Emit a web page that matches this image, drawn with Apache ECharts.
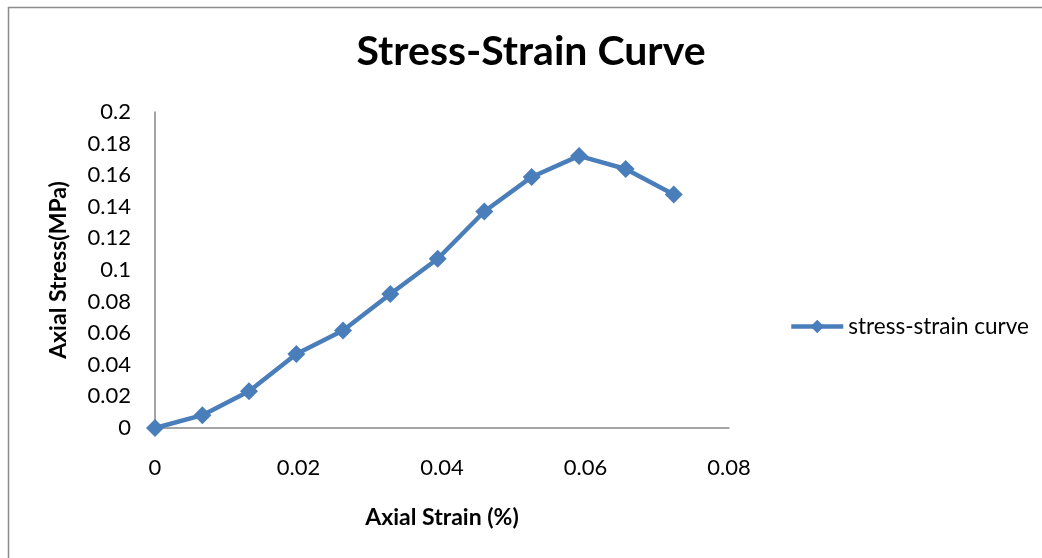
<!DOCTYPE html>
<html>
<head>
<meta charset="utf-8">
<style>
  html, body { margin: 0; padding: 0; background: #fff; }
  #chart { width: 1042px; height: 558px; }
</style>
<script src="https://cdn.jsdelivr.net/npm/echarts@6/dist/echarts.min.js"></script>
</head>
<body>
<div id="chart"></div>
<script>
// Axial strain (%) and the matching axial stress (MPa)
const strain = [0, 0.0066, 0.0131, 0.0197, 0.0262, 0.0328, 0.0394, 0.0459, 0.0525, 0.0591, 0.0656, 0.0723];
const stress = [0, 0.0081, 0.0233, 0.0469, 0.0617, 0.0848, 0.1071, 0.1370, 0.1589, 0.1722, 0.1639, 0.1478];
const seriesName = 'stress-strain curve';
const titleText = 'Stress-Strain Curve';
const xTitle = 'Axial Strain (%)';
const yTitle = 'Axial Stress(MPa)';

const FONT = 'Lato, "Open Sans", sans-serif';
const BLUE = '#4a7ebb';
const AXIS = '#868686';

const chart = echarts.init(document.getElementById('chart'), null, { renderer: 'canvas' });

chart.setOption({
  backgroundColor: '#fff',
  animation: false,
  title: {
    text: titleText,
    left: 531,
    top: 31,
    padding: 0,
    textAlign: 'center',
    textStyle: { fontFamily: FONT, fontWeight: 'bold', fontSize: 41, color: '#000' }
  },
  legend: {
    data: [seriesName],
    left: 789,
    top: 315,
    padding: 0,
    itemWidth: 52,
    itemHeight: 17,
    itemGap: 4,
    lineStyle: { width: 4.5 },
    textStyle: { fontFamily: FONT, fontSize: 22.5, color: '#000' }
  },
  grid: { left: 155, right: 313, top: 112, bottom: 130, containLabel: false },
  xAxis: {
    type: 'value',
    min: 0, max: 0.08, interval: 0.02,
    name: xTitle,
    nameLocation: 'middle',
    nameGap: 78,
    nameTextStyle: { fontFamily: FONT, fontWeight: 'bold', fontSize: 23, color: '#000' },
    axisLine: { show: true, lineStyle: { color: AXIS, width: 1.5 } },
    axisTick: { show: false },
    splitLine: { show: false },
    axisLabel: {
      margin: 29, fontFamily: FONT, fontSize: 22, color: '#000',
      formatter: v => String(+v.toFixed(2))
    }
  },
  yAxis: {
    type: 'value',
    min: 0, max: 0.2, interval: 0.02,
    name: yTitle,
    nameLocation: 'middle',
    nameRotate: 90,
    nameGap: 85,
    nameTextStyle: { fontFamily: FONT, fontWeight: 'bold', fontSize: 23, color: '#000' },
    axisLine: { show: true, lineStyle: { color: AXIS, width: 1.5 } },
    axisTick: { show: false },
    splitLine: { show: false },
    axisLabel: {
      margin: 24, fontFamily: FONT, fontSize: 22, color: '#000',
      formatter: v => String(+v.toFixed(2))
    }
  },
  series: [{
    name: seriesName,
    type: 'line',
    data: strain.map((s, i) => [s, stress[i]]),
    symbol: 'diamond',
    symbolSize: 18,
    showAllSymbol: true,
    itemStyle: { color: BLUE },
    lineStyle: { color: BLUE, width: 4.5 },
    z: 3
  }],
  graphic: [
    // chart frame: top and left edges
    { type: 'line', shape: { x1: 8, y1: 7.5, x2: 1042, y2: 7.5 }, style: { stroke: '#8c8c8c', lineWidth: 1.5 } },
    { type: 'line', shape: { x1: 8.5, y1: 7, x2: 8.5, y2: 558 }, style: { stroke: '#8c8c8c', lineWidth: 1.5 } }
  ]
});
</script>
</body>
</html>
